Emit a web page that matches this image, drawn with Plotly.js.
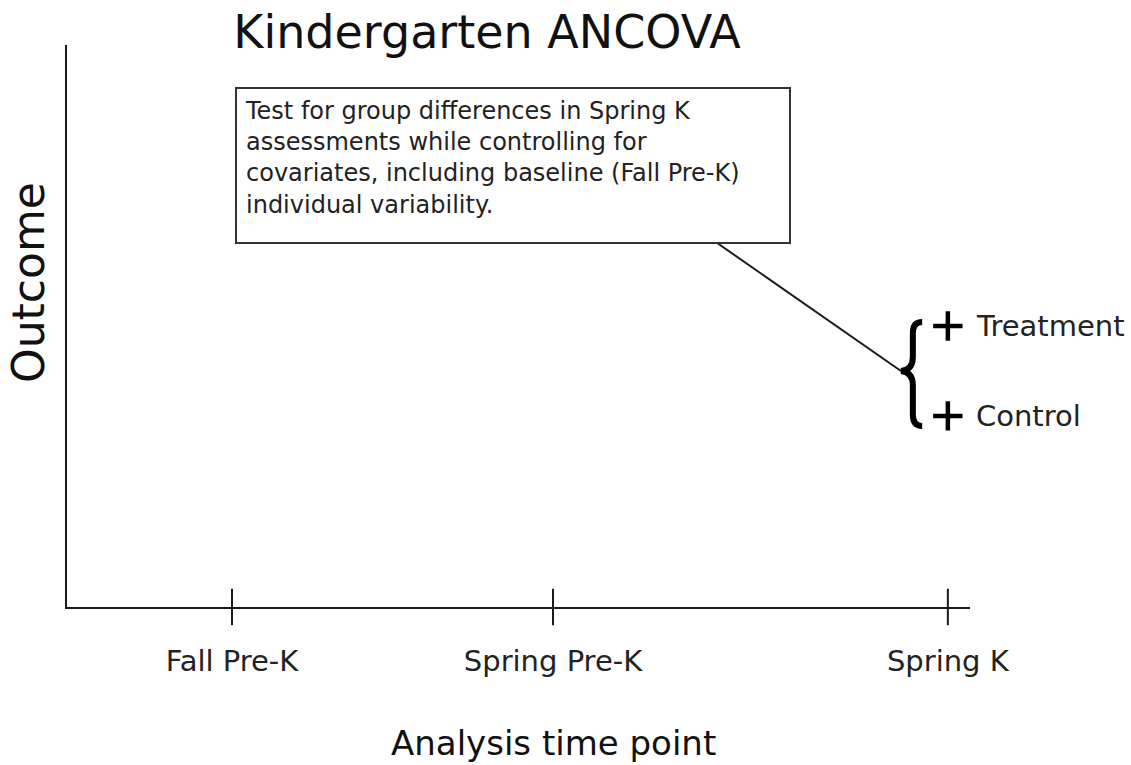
<!DOCTYPE html>
<html>
<head>
<meta charset="utf-8">
<script src="https://cdn.plot.ly/plotly-3.0.1.min.js"></script>
<style>
html,body{margin:0;padding:0;background:#fff;}
#chart{width:1131px;height:765px;}
</style>
</head>
<body>
<div id="chart"></div>
<script>
// ---- data ----
const timepoints = ['Fall Pre-K', 'Spring Pre-K', 'Spring K'];
const timeValues = [0, 1, 2.23];
const groups = ['Treatment', 'Control'];
const groupOutcomes = [5.0, 3.4];
const chartTitle = 'Kindergarten ANCOVA';
const xTitle = 'Analysis time point';
const yTitle = 'Outcome';
const noteLines = [
  'Test for group differences in Spring K',
  'assessments while controlling for',
  'covariates, including baseline (Fall Pre-K)',
  'individual variability.'
];

const FONT = 'DejaVu Sans, Verdana, sans-serif';
const INK = '#1a1a1a';
const springK = timeValues[timeValues.length - 1];

// tick marks crossing the x axis
const tickTrace = {
  x: timeValues,
  y: timeValues.map(() => 0),
  mode: 'markers',
  marker: {symbol: 'line-ns-open', size: 26, color: INK, line: {width: 2, color: INK}},
  cliponaxis: false,
  hoverinfo: 'skip',
  showlegend: false
};

// group outcome points at Spring K
const groupTrace = {
  x: groups.map(() => springK),
  y: groupOutcomes,
  mode: 'markers',
  marker: {symbol: 'cross-thin-open', size: 21, color: '#000', line: {width: 4.5, color: '#000'}},
  cliponaxis: false,
  hoverinfo: 'x+y',
  showlegend: false
};

// brace geometry derived from group outcomes
const yHi = Math.max(...groupOutcomes), yLo = Math.min(...groupOutcomes);
const yMid = (yHi + yLo) / 2;
const bx = springK - 0.109;    // brace spine
const bEnd = springK - 0.08;   // brace hook ends
const bTip = springK - 0.146;  // brace tip
const yT = yHi + 0.07, yB = yLo - 0.18;
const bracePath =
  `M ${bEnd},${yT} Q ${bx},${yT} ${bx},${yT - 0.2} L ${bx},${yMid + 0.25} ` +
  `Q ${bx},${yMid + 0.02} ${bTip},${yMid} Q ${bx},${yMid - 0.02} ${bx},${yMid - 0.25} ` +
  `L ${bx},${yB + 0.2} Q ${bx},${yB} ${bEnd},${yB}`;

const layout = {
  width: 1131, height: 765,
  paper_bgcolor: '#fff', plot_bgcolor: '#fff',
  margin: {l: 67, r: 161, t: 45, b: 158},
  font: {family: FONT, color: INK},
  title: {
    text: chartTitle,
    font: {family: FONT, size: 46, color: '#111'},
    x: 487 / 1131, xanchor: 'center', xref: 'container',
    y: 1 - 32 / 765, yanchor: 'middle', yref: 'container'
  },
  xaxis: {
    range: [-0.514, 2.299],
    tickvals: timeValues, ticktext: timepoints,
    ticks: '', showgrid: false, zeroline: false,
    showline: true, linecolor: INK, linewidth: 2,
    tickfont: {family: FONT, size: 29, color: '#222'},
    ticklabelstandoff: 27,
    fixedrange: true
  },
  yaxis: {
    range: [0, 10],
    showticklabels: false, ticks: '', showgrid: false, zeroline: false,
    showline: true, linecolor: INK, linewidth: 2,
    fixedrange: true
  },
  shapes: [
    {type: 'path', path: bracePath, xref: 'x', yref: 'y',
     line: {color: '#000', width: 6}},
    {type: 'line', xref: 'x', yref: 'y',
     x0: 1.498, y0: 6.53, x1: bTip, y1: yMid,
     line: {color: INK, width: 2}}
  ],
  annotations: [
    {
      text: noteLines.join('<br>'),
      xref: 'paper', yref: 'paper',
      x: (235 - 67) / 903, y: (607 - 87) / 562,
      xanchor: 'left', yanchor: 'top',
      align: 'left', valign: 'top',
      width: 536, height: 137, borderpad: 8,
      bordercolor: '#333', borderwidth: 2, bgcolor: '#fff',
      showarrow: false,
      font: {family: FONT, size: 24, color: '#222'}
    },
    {
      text: xTitle, xref: 'paper', yref: 'paper',
      x: (553 - 67) / 903, y: (607 - 743) / 562,
      xanchor: 'center', yanchor: 'middle', showarrow: false,
      font: {family: FONT, size: 34, color: '#111'}
    },
    {
      text: yTitle, xref: 'paper', yref: 'paper',
      x: (28 - 67) / 903, y: (607 - 283) / 562,
      xanchor: 'center', yanchor: 'middle', textangle: -90, showarrow: false,
      font: {family: FONT, size: 44, color: '#111'}
    }
  ].concat(groups.map((g, i) => ({
    text: g, x: springK, y: groupOutcomes[i], xref: 'x', yref: 'y',
    xanchor: 'left', yanchor: 'middle', xshift: 26, showarrow: false,
    font: {family: FONT, size: 29, color: '#222'}
  })))
};

Plotly.newPlot('chart', [tickTrace, groupTrace], layout, {displayModeBar: false, staticPlot: true});
</script>
</body>
</html>
